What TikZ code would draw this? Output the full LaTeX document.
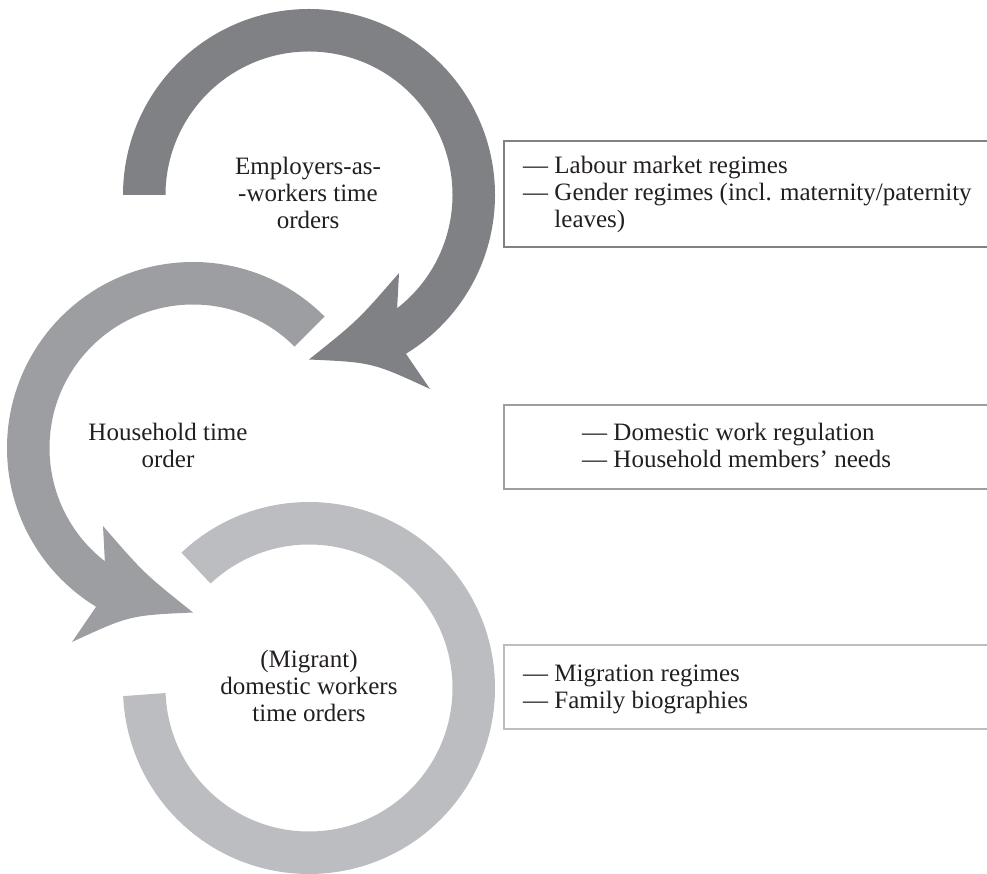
\documentclass[tikz,border=0pt]{standalone}
\usepackage{fontspec}
\setmainfont{Liberation Serif}
\definecolor{darkg}{HTML}{808185}
\definecolor{midg}{HTML}{9D9EA2}
\definecolor{lightg}{HTML}{BCBDC1}
\definecolor{txt}{HTML}{231F20}
% curved arrow around the local origin; #1 = start angle of the tail
\newcommand\cyclearrow[1]{%
  (#1:186) arc[start angle=#1, end angle=-58.6, radius=186]
  -- (121,-194) .. controls (63.4,-167.4) .. (0,-164.5)
  .. controls (49,-125.3) .. (90,-78)
  -- (-52.1:143.5) arc[start angle=-52.1, end angle=#1, radius=143.5] -- cycle}
\begin{document}
\begin{tikzpicture}[x=1pt,y=1pt,
  lbl/.style={font=\fontsize{25}{27}\selectfont, text=txt, inner sep=0pt, align=center, anchor=base},
  listtext/.style={font=\fontsize{25}{27}\selectfont, text=txt, inner sep=0pt, align=left, anchor=base west},
  frame/.style={draw=#1, line width=2pt, rectangle, anchor=north west, minimum width=540pt, inner sep=0pt, outer sep=0pt},
]
\useasboundingbox (0,0) rectangle (987,873);

\coordinate (c1) at (309,678);
\coordinate (c2) at (193,425);
\coordinate (c3) at (309,185);

% bottom ring (light)
\begin{scope}[shift={(c3)}]
  \fill[lightg] (133.3:186) arc[start angle=133.3, end angle=-177.5, radius=186]
    -- (-178:143.5) arc[start angle=-178, end angle=133.3, radius=143.5] -- cycle;
\end{scope}

% middle arrow (medium), mirrored
\begin{scope}[shift={(c2)}, xscale=-1]
  \fill[midg] \cyclearrow{135};
\end{scope}

% top arrow (dark)
\begin{scope}[shift={(c1)}]
  \fill[darkg] \cyclearrow{180};
\end{scope}

% circle labels (anchor = baseline of the last line)
\node[lbl] (emp) at (308,644) {Employers-as-\\-workers time\\orders};
\node[lbl] (hh) at (168,405) {Household time\\order};
\node[lbl] (mig) at (309,152) {(Migrant)\\domestic workers\\time orders};

% boxes
\node[frame=darkg, minimum height=106pt] (b1) at (504,732) {};
\node[frame=midg, minimum height=84pt] (b2) at (504,468) {};
\node[frame=lightg, minimum height=84pt] (b3) at (504,228) {};

\node[listtext] (t1) at (523,645) {— Labour market regimes\\— Gender regimes (incl. maternity/paternity\\\hphantom{—\ }leaves)};
\node[listtext] (t2) at (582,405) {— Domestic work regulation\\— Household members’ needs};
\node[listtext] (t3) at (523,165) {— Migration regimes\\— Family biographies};
\end{tikzpicture}
\end{document}
